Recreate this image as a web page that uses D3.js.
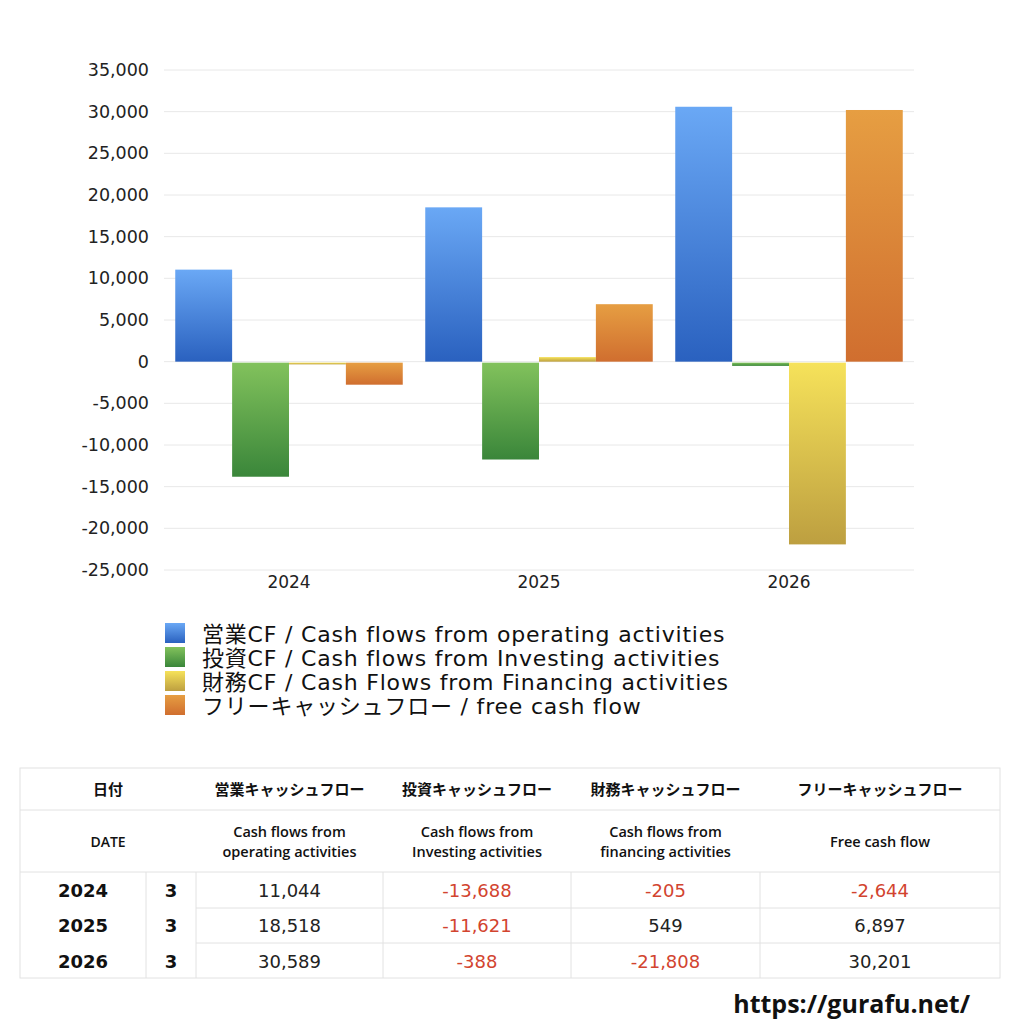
<!DOCTYPE html>
<html>
<head>
<meta charset="utf-8">
<script src="https://cdn.jsdelivr.net/npm/d3@7"></script>
<style>
  body { margin: 0; background: #fff; }
  svg text { font-family: "DejaVu Sans", "Noto Sans CJK JP", sans-serif; }
</style>
</head>
<body>
<div id="chart"></div>
<script>
// data
var years = ["2024", "2025", "2026"];
var months = ["3", "3", "3"];
var operating = [11044, 18518, 30589];
var investing = [-13688, -11621, -388];
var financing = [-205, 549, -21808];
var freeCash = [-2644, 6897, 30201];
var yTicks = [35000, 30000, 25000, 20000, 15000, 10000, 5000, 0, -5000, -10000, -15000, -20000, -25000];
var seriesNames = [
  "営業CF / Cash flows from operating activities",
  "投資CF / Cash flows from Investing activities",
  "財務CF / Cash Flows from Financing activities",
  "フリーキャッシュフロー / free cash flow"
];
var headJa = ["営業キャッシュフロー", "投資キャッシュフロー", "財務キャッシュフロー", "フリーキャッシュフロー"];
var headEn = [["Cash flows from", "operating activities"], ["Cash flows from", "Investing activities"],
              ["Cash flows from", "financing activities"], ["Free cash flow"]];

var series = [operating, investing, financing, freeCash];
var colors = [["#6aa8f5", "#2a61bf"], ["#82c25c", "#3a863a"], ["#f6e25a", "#bd9f40"], ["#e69e42", "#d06e2f"]];

// plain hyphen for negatives, like the original
var fmt = function(v) { return d3.format(",")(v).replace("\u2212", "-"); };

var svg = d3.select("#chart").append("svg")
  .attr("width", 1024).attr("height", 1024);

var defs = svg.append("defs");
colors.forEach(function(c, i) {
  var g = defs.append("linearGradient").attr("id", "grad" + i)
    .attr("x1", 0).attr("y1", 0).attr("x2", 0).attr("y2", 1);
  g.append("stop").attr("offset", "0%").attr("stop-color", c[0]);
  g.append("stop").attr("offset", "100%").attr("stop-color", c[1]);
});

// scales
var x0 = d3.scaleBand().domain(years).range([164, 914])
  .paddingInner(0.09).paddingOuter(0.045);
var x1 = d3.scaleBand().domain(d3.range(4)).range([0, x0.bandwidth()]);
var y = d3.scaleLinear().domain([-25000, 35000]).range([570, 70]);

// grid
svg.append("g").selectAll("line").data(yTicks).enter().append("line")
  .attr("x1", 164).attr("x2", 914)
  .attr("y1", d => y(d)).attr("y2", d => y(d))
  .attr("stroke", "#e8e8e8").attr("stroke-width", 1);

// y axis labels
var yAxis = d3.axisLeft(y).tickValues(yTicks).tickSize(0).tickPadding(0)
  .tickFormat(fmt);
var ya = svg.append("g").attr("transform", "translate(149,0)").call(yAxis);
ya.select(".domain").remove();
ya.selectAll("text").attr("font-size", 17.5).attr("fill", "#222")
  .style("font-family", '"DejaVu Sans", sans-serif');

// x axis labels
var xAxis = d3.axisBottom(x0).tickSize(0).tickPadding(0);
var xa = svg.append("g").attr("transform", "translate(0,576)").call(xAxis);
xa.select(".domain").remove();
xa.selectAll("text").attr("font-size", 17).attr("fill", "#222")
  .style("font-family", '"DejaVu Sans", sans-serif');

// bars
series.forEach(function(vals, si) {
  svg.append("g").selectAll("rect").data(vals).enter().append("rect")
    .attr("x", (d, i) => x0(years[i]) + x1(si))
    .attr("width", x1.bandwidth())
    .attr("y", d => d >= 0 ? y(d) : y(0) + 1)
    .attr("height", d => Math.max(1.5, Math.abs(y(d) - y(0))))
    .attr("fill", "url(#grad" + si + ")");
});

// legend
var lg = svg.append("g");
seriesNames.forEach(function(name, i) {
  lg.append("rect").attr("x", 165).attr("y", 623 + i * 24)
    .attr("width", 20).attr("height", 20).attr("fill", "url(#grad" + i + ")");
  lg.append("text").attr("x", 202).attr("y", 642 + i * 24)
    .attr("font-size", 22).attr("letter-spacing", 0.8).attr("fill", "#111").text(name);
});

// table
var colX = [20, 146, 196, 383, 571, 760, 1000];
var t = svg.append("g");
var border = "#e2e2e2";
t.append("rect").attr("x", 20).attr("y", 768).attr("width", 980).attr("height", 210)
  .attr("fill", "none").attr("stroke", border);
t.append("line").attr("x1", 20).attr("x2", 1000).attr("y1", 810).attr("y2", 810).attr("stroke", border);
t.append("line").attr("x1", 20).attr("x2", 1000).attr("y1", 872).attr("y2", 872).attr("stroke", border);
[908, 943].forEach(function(yy) {
  t.append("line").attr("x1", 196).attr("x2", 1000).attr("y1", yy).attr("y2", yy).attr("stroke", border);
});
colX.slice(1, 6).forEach(function(xx) {
  t.append("line").attr("x1", xx).attr("x2", xx).attr("y1", 872).attr("y2", 978).attr("stroke", border);
});

t.append("text").attr("x", 108).attr("y", 795).attr("text-anchor", "middle")
  .attr("font-size", 15).attr("font-weight", "bold").attr("fill", "#111").text("日付");
t.append("text").attr("x", 108).attr("y", 847).attr("text-anchor", "middle")
  .attr("font-size", 14).attr("font-weight", 600).attr("fill", "#111")
  .style("font-family", '"Open Sans", sans-serif').text("DATE");
headJa.forEach(function(h, i) {
  var cx = (colX[i + 2] + colX[i + 3]) / 2;
  t.append("text").attr("x", cx).attr("y", 795).attr("text-anchor", "middle")
    .attr("font-size", 15).attr("font-weight", "bold").attr("fill", "#111")
    .style("font-family", '"Noto Sans CJK JP", sans-serif').text(h);
  var lines = headEn[i];
  lines.forEach(function(l, j) {
    var yy = lines.length === 1 ? 847 : 837 + j * 20;
    t.append("text").attr("x", cx).attr("y", yy).attr("text-anchor", "middle")
      .attr("font-size", 14.5).attr("font-weight", 600).attr("fill", "#111")
      .style("font-family", '"Open Sans", sans-serif').text(l);
  });
});

var rowY = [897, 932, 968];
years.forEach(function(yr, r) {
  t.append("text").attr("x", 83).attr("y", rowY[r]).attr("text-anchor", "middle")
    .attr("font-size", 18).attr("font-weight", "bold").attr("fill", "#111").text(yr);
  t.append("text").attr("x", 171).attr("y", rowY[r]).attr("text-anchor", "middle")
    .attr("font-size", 18).attr("font-weight", "bold").attr("fill", "#111").text(months[r]);
  series.forEach(function(vals, si) {
    var cx = (colX[si + 2] + colX[si + 3]) / 2;
    t.append("text").attr("x", cx).attr("y", rowY[r]).attr("text-anchor", "middle")
      .attr("font-size", 18).attr("fill", vals[r] < 0 ? "#d2442f" : "#222")
      .text(fmt(vals[r]));
  });
});

// url
svg.append("text").attr("x", 970).attr("y", 1013).attr("text-anchor", "end")
  .attr("font-size", 25).attr("font-weight", "bold").attr("fill", "#111")
  .style("font-family", '"Open Sans", sans-serif')
  .text("https://gurafu.net/");
</script>
</body>
</html>
